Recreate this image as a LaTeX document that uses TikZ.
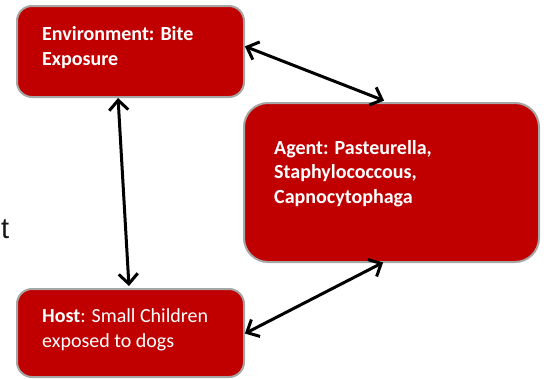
\documentclass[tikz,border=0pt]{standalone}
\usepackage{fontspec}
\setmainfont{Carlito}
\newfontfamily\arialfont{Liberation Sans}
\usetikzlibrary{arrows.meta}
\definecolor{boxred}{HTML}{C00000}
\definecolor{boxgray}{HTML}{A6A6A6}
\tikzset{
  redbox/.style={draw=boxgray, line width=2pt, fill=boxred, inner sep=0pt},
  boxtext/.style={text=white, font=\fontsize{20}{24.5}\selectfont, align=left, inner sep=0pt, anchor=base west},
  barb/.tip={Straight Barb[length=10pt,width=19pt,line width=3pt]},
  link/.style={line width=3pt, black, barb-barb, shorten <=1pt, shorten >=1pt}
}
\begin{document}
\begin{tikzpicture}[x=1pt,y=-1pt]
\useasboundingbox (0,0) rectangle (544,378);
\begin{scope}
\clip (0,0) rectangle (544,378);
% boxes
\draw[redbox, rounded corners=15pt] (17,6) rectangle (244,97);
\node[inner sep=0pt, minimum width=227pt, minimum height=91pt] (env) at (130.5,51.5) {};
\draw[redbox, rounded corners=24pt] (244,103) rectangle (539,262);
\node[inner sep=0pt, minimum width=295pt, minimum height=159pt] (agent) at (391.5,182.5) {};
\draw[redbox, rounded corners=15pt] (17,289) rectangle (244,377);
\node[inner sep=0pt, minimum width=227pt, minimum height=88pt] (host) at (130.5,333) {};
\end{scope}
% texts (anchor = baseline of last line)
\node[boxtext] (envt) at (42,65) {\bfseries Environment: Bite\\\bfseries Exposure};
\node[boxtext] (agentt) at (274,203) {\bfseries Agent: Pasteurella,\\\bfseries Staphylococcous,\\\bfseries Capnocytophaga};
\node[boxtext] (hostt) at (42,347) {\textbf{Host}: Small Children\\exposed to dogs};
\node[anchor=base west, inner sep=0pt, text=black!90, font=\arialfont\fontsize{29}{29}\selectfont] (tt) at (1,238) {t};
% connectors
\coordinate (e1) at (244,46);
\coordinate (a1) at (385,101);
\coordinate (e2) at (118,97);
\coordinate (h2) at (129,287);
\coordinate (a3) at (384,262);
\coordinate (h3) at (244,334);
\draw[link] (e1) -- (a1);
\draw[link] (e2) -- (h2);
\draw[link] (h3) -- (a3);
\end{tikzpicture}
\end{document}
